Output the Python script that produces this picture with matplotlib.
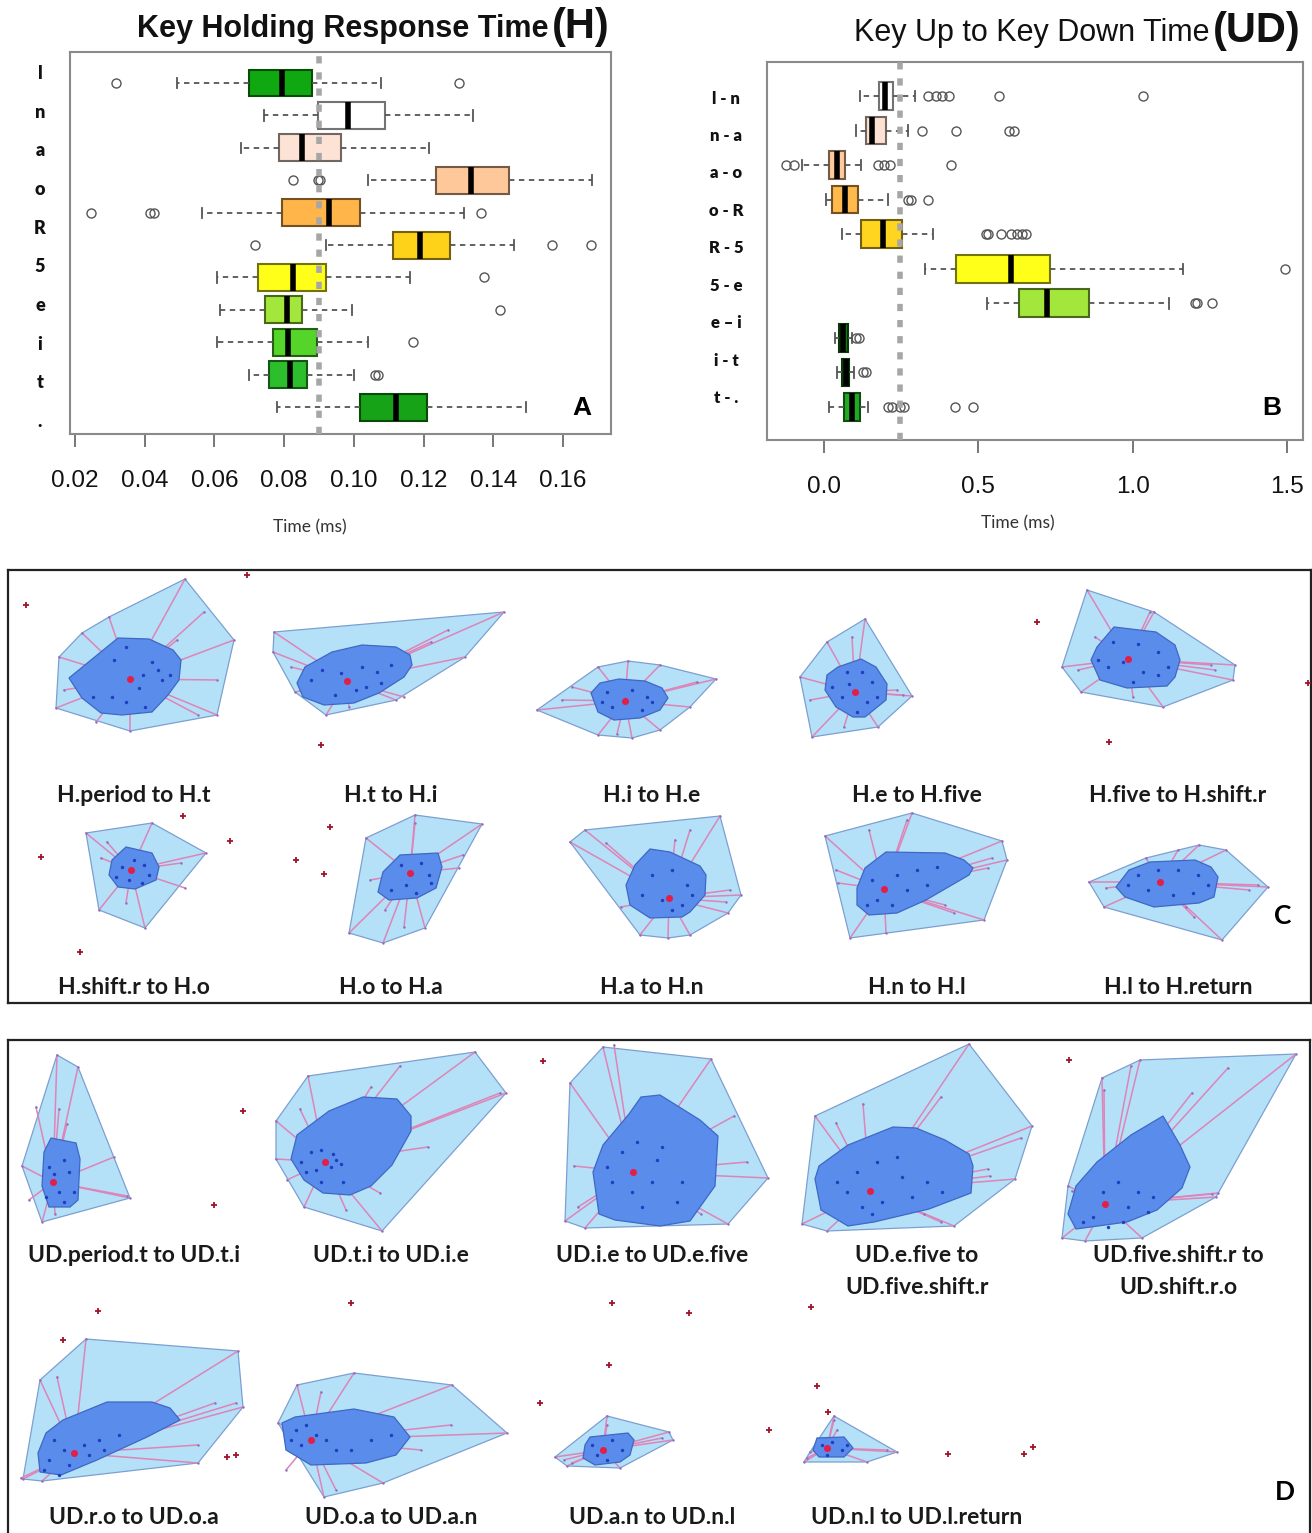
import numpy as np
import matplotlib
matplotlib.use("Agg")
import matplotlib.pyplot as plt
from matplotlib.patches import Polygon
from matplotlib.colors import to_rgb

plt.rcParams["font.family"] = "Liberation Sans"

# ---------------- panel A: key holding time (H), top row first ----------------
A_LABELS = ["l", "n", "a", "o", "R", "5", "e", "i", "t", "."]
A_WLO = [0.0492, 0.0742, 0.0676, 0.1042, 0.0563, 0.0920, 0.0607, 0.0615, 0.0607, 0.0700, 0.0779]
A_Q1 = [0.0700, 0.0897, 0.0784, 0.1235, 0.0793, 0.1113, 0.0724, 0.0746, 0.0767, 0.0756, 0.1019]
A_MED = [0.0793, 0.0984, 0.0852, 0.1335, 0.0928, 0.1191, 0.0826, 0.0808, 0.0811, 0.0817, 0.1121]
A_Q3 = [0.0881, 0.1089, 0.0964, 0.1444, 0.1019, 0.1276, 0.0920, 0.0852, 0.0893, 0.0867, 0.1210]
A_WHI = [0.1077, 0.1341, 0.1216, 0.1684, 0.1315, 0.1458, 0.1162, 0.0996, 0.1042, 0.0999, 0.1493]
A_FLIERS = [[0.0317, 0.1303], [], [], [0.0824, 0.0898, 0.0902],
            [0.0247, 0.0416, 0.0426, 0.1366], [0.0717, 0.1569, 0.1680],
            [0.1374], [0.1419], [0.1171], [0.1062, 0.1068], []]
A_FILL = ["#10a810", "#ffffff", "#fde3d6", "#ffc89a", "#ffb54a", "#ffd21a",
          "#ffff1a", "#a3e63c", "#55d42a", "#2dbe2d", "#17a317"]
A_CUTOFF = 0.09

# ---------------- panel B: key up to key down time (UD) ----------------
B_LABELS = ["l - n", "n - a", "a - o", "o - R", "R - 5", "5 - e", "e – i", "i - t", "t - ."]
B_WLO = [0.118, 0.105, -0.070, 0.007, 0.059, 0.328, 0.528, 0.035, 0.042, 0.016]
B_Q1 = [0.177, 0.136, 0.016, 0.025, 0.121, 0.427, 0.633, 0.050, 0.059, 0.064]
B_MED = [0.197, 0.157, 0.042, 0.068, 0.190, 0.606, 0.722, 0.062, 0.072, 0.092]
B_Q3 = [0.223, 0.202, 0.068, 0.110, 0.252, 0.731, 0.858, 0.078, 0.081, 0.117]
B_WHI = [0.295, 0.272, 0.121, 0.206, 0.353, 1.164, 1.118, 0.092, 0.098, 0.143]
B_FLIERS = [[0.337, 0.362, 0.381, 0.404, 0.567, 1.033], [0.318, 0.427, 0.600, 0.617],
            [-0.122, -0.096, 0.176, 0.193, 0.213, 0.412], [0.272, 0.282, 0.337],
            [0.524, 0.530, 0.573, 0.606, 0.626, 0.643, 0.656], [1.492],
            [1.201, 1.207, 1.256], [0.105, 0.112], [0.127, 0.136],
            [0.206, 0.219, 0.245, 0.259, 0.423, 0.482]]
B_FILL = ["#ffffff", "#fde2d4", "#ffcb9c", "#ffb94d", "#ffd51f", "#ffff1a",
          "#a3e63c", "#137a13", "#137a13", "#22a822"]
B_CUTOFF = 0.245

# ---------------- panel C: bagplots of successive H pairs ----------------
C_LABELS = ["H.period to H.t", "H.t to H.i", "H.i to H.e", "H.e to H.five", "H.five to H.shift.r",
            "H.shift.r to H.o", "H.o to H.a", "H.a to H.n", "H.n to H.l", "H.l to H.return"]
C_HULL = [
    [(51, 7), (100, 68), (83, 143), (-4, 159), (-78, 136), (-75, 85), (-52, 61), (-25, 45)],
    [(-117, 60), (113, 40), (74, 85), (5, 128), (-65, 143), (-96, 120), (-118, 80)],
    [(-115, 138), (-54, 95), (-24, 89), (8, 93), (64, 107), (38, 135), (8, 158), (-20, 166), (-54, 163)],
    [(-52, 47), (-5, 124), (-39, 155), (-105, 165), (-117, 105), (-90, 70)],
    [(-91, 18), (-24, 40), (57, 93), (55, 108), (-15, 135), (-97, 120), (-116, 95)],
    [(-48, 28), (18, 18), (72, 48), (11, 123), (-35, 105)],
    [(-25, 33), (24, 10), (91, 19), (34, 123), (-8, 138), (-42, 128)],
    [(-82, 37), (-67, 25), (68, 11), (89, 90), (76, 108), (38, 130), (16, 133), (-12, 130)],
    [(-92, 31), (-5, 8), (85, 36), (90, 55), (67, 115), (-67, 133)],
    [(-89, 77), (-32, 53), (21, 40), (48, 45), (90, 82), (44, 135), (-74, 102)],
]
C_BAG = [
    [(-16, 66), (15, 67), (39, 78), (47, 88), (45, 108), (34, 123), (18, 140), (-12, 143), (-33, 141), (-52, 126), (-65, 106)],
    [(-29, 73), (5, 75), (19, 83), (21, 93), (13, 105), (-12, 121), (-37, 131), (-67, 133), (-88, 125), (-94, 111), (-86, 95), (-59, 80)],
    [(-61, 121), (-52, 111), (-33, 107), (-7, 109), (10, 116), (16, 126), (8, 138), (-12, 146), (-38, 148), (-54, 140)],
    [(-79, 95), (-56, 87), (-41, 95), (-30, 112), (-31, 128), (-52, 145), (-64, 145), (-81, 135), (-92, 118), (-90, 103)],
    [(-64, 55), (-22, 60), (-3, 73), (2, 88), (-3, 105), (-11, 114), (-51, 116), (-78, 108), (-87, 88), (-81, 75)],
    [(-8, 42), (18, 48), (25, 62), (22, 75), (1, 84), (-16, 82), (-25, 70), (-22, 55)],
    [(9, 50), (47, 48), (51, 62), (45, 83), (26, 93), (-2, 95), (-13, 87), (-8, 67)],
    [(-2, 44), (18, 47), (48, 61), (54, 70), (53, 90), (38, 107), (30, 112), (-2, 113), (-22, 100), (-26, 80), (-17, 60)],
    [(-31, 47), (28, 48), (47, 55), (56, 63), (52, 70), (9, 95), (-20, 108), (-48, 110), (-60, 100), (-60, 83), (-52, 63)],
    [(-49, 65), (-28, 57), (17, 55), (33, 62), (40, 72), (36, 92), (21, 98), (-24, 102), (-53, 92), (-62, 82)],
]
C_CENTER = [(-4, 107), (-44, 109), (-27, 129), (-62, 120), (-50, 87),
            (-3, 65), (19, 68), (17, 93), (-33, 84), (-18, 77)]
C_POINTS = [
    [(18, 90), (24, 98), (9, 103), (-20, 88), (-8, 75), (28, 108), (-22, 125), (-41, 125), (-8, 130), (11, 135), (36, 103), (5, 116)],
    [(-69, 98), (-50, 101), (-29, 95), (-14, 100), (0, 93), (-35, 118), (-56, 123), (-10, 111), (-80, 108), (-25, 115)],
    [(-45, 120), (-20, 118), (-5, 125), (-40, 135), (-10, 138), (0, 130), (-50, 130)],
    [(-70, 100), (-55, 100), (-45, 110), (-75, 125), (-50, 130), (-60, 140), (-85, 115), (-40, 125), (-68, 112)],
    [(-65, 70), (-40, 72), (-20, 80), (-70, 95), (-55, 90), (-35, 100), (-20, 103), (-10, 95), (-80, 88), (-45, 110)],
    [(0, 55), (10, 60), (-12, 62), (15, 70), (-5, 75), (8, 78), (-18, 72)],
    [(10, 60), (30, 58), (38, 70), (15, 80), (25, 88), (0, 85), (40, 78)],
    [(0, 70), (20, 65), (35, 80), (10, 95), (30, 100), (-10, 90), (40, 90), (20, 105)],
    [(-45, 75), (-20, 70), (0, 65), (20, 62), (-40, 95), (-10, 85), (10, 80), (-50, 100), (-25, 100)],
    [(-40, 70), (-20, 65), (0, 65), (20, 70), (-30, 85), (-5, 90), (15, 88), (30, 80), (-50, 80)],
]
C_LOOP = [
    [(83, 108), (64, 143), (-70, 118), (-38, 150), (70, 40), (43, 68)],
    [(57, 58), (40, 70), (-42, 135), (13, 125), (-100, 95)],
    [(-90, 128), (-35, 162), (45, 110), (-80, 115)],
    [(-20, 118), (-14, 123), (-73, 155), (-107, 128), (-65, 65)],
    [(-28, 40), (33, 93), (37, 98), (-100, 98), (-45, 125), (-83, 65)],
    [(47, 58), (51, 83), (-33, 53), (-27, 37), (-8, 98)],
    [(68, 63), (72, 50), (24, 18), (-6, 105), (-21, 75), (13, 122)],
    [(38, 25), (23, 35), (78, 85), (74, 97), (-46, 38), (-31, 102)],
    [(-10, 15), (-81, 65), (-79, 78), (75, 53), (71, 63), (28, 100), (37, 108), (-31, 128), (-48, 25)],
    [(80, 80), (71, 85), (0, 45), (8, 102), (16, 112), (-72, 83)],
]
C_OUT = [
    [(-108, 33), (113, 3)], [(-70, 173)], [], [], [(-141, 50), (-69, 170), (130, 111)],
    [(-93, 52), (49, 11), (96, 36), (-54, 147)], [(-61, 22), (-95, 55), (-67, 69)], [], [], [],
]

# ---------------- panel D: bagplots of successive UD pairs ----------------
D_LABELS = ["UD.period.t to UD.t.i", "UD.t.i to UD.i.e", "UD.i.e to UD.e.five",
            "UD.e.five to\nUD.five.shift.r", "UD.five.shift.r to\nUD.shift.r.o",
            "UD.r.o to UD.o.a", "UD.o.a to UD.a.n", "UD.a.n to UD.n.l", "UD.n.l to UD.l.return"]
D_HULL = [
    [(-77, 13), (-56, 25), (-4, 156), (-92, 180), (-112, 124)],
    [(-83, 34), (84, 10), (115, 51), (-9, 189), (-87, 165), (-115, 117), (-115, 79)],
    [(-82, 41), (-49, 5), (59, 17), (116, 136), (76, 182), (-67, 186), (-87, 179)],
    [(-102, 74), (52, 2), (115, 84), (98, 137), (37, 184), (-90, 189), (-115, 182)],
    [(-76, 36), (-38, 18), (118, 12), (38, 155), (-36, 196), (-93, 199), (-116, 196), (-110, 144)],
    [(-48, 39), (104, 51), (109, 107), (64, 163), (-92, 181), (-111, 179), (-94, 80)],
    [(-94, 85), (-37, 73), (61, 85), (116, 133), (-8, 183), (-67, 197), (-113, 123)],
    [(-97, 157), (-45, 116), (17, 132), (21, 140), (-32, 168), (-85, 166)],
    [(-83, 116), (-20, 152), (-50, 162), (-113, 162), (-107, 152)],
]
D_BAG = [
    [(-83, 96), (-58, 101), (-54, 117), (-56, 158), (-64, 165), (-85, 165), (-92, 144), (-90, 110)],
    [(-28, 55), (6, 57), (20, 74), (20, 89), (1, 123), (-20, 144), (-41, 153), (-68, 151), (-87, 138), (-100, 117), (-94, 93), (-62, 69)],
    [(-11, 55), (8, 53), (48, 78), (66, 94), (63, 144), (38, 179), (8, 184), (-37, 178), (-53, 172), (-59, 130), (-49, 103), (-23, 72)],
    [(-69, 103), (-24, 85), (-1, 86), (28, 98), (52, 112), (56, 124), (54, 151), (12, 167), (-43, 180), (-69, 184), (-96, 168), (-102, 137), (-98, 124)],
    [(-15, 74), (2, 103), (12, 125), (4, 146), (-21, 168), (-51, 180), (-102, 187), (-110, 172), (-102, 144), (-81, 120), (-47, 93)],
    [(-27, 102), (18, 102), (36, 108), (46, 120), (13, 137), (-37, 160), (-73, 175), (-94, 172), (-96, 153), (-88, 133), (-71, 120)],
    [(-37, 109), (3, 117), (19, 137), (5, 155), (-25, 163), (-80, 165), (-105, 150), (-109, 123), (-96, 117)],
    [(-62, 137), (-24, 133), (-18, 140), (-22, 155), (-32, 162), (-57, 165), (-69, 158), (-67, 145)],
    [(-100, 138), (-73, 137), (-64, 148), (-73, 157), (-98, 157), (-104, 150)],
]
D_CENTER = [(-81, 140), (-66, 120), (-19, 130), (-47, 149), (-73, 162),
            (-60, 153), (-80, 140), (-49, 150), (-90, 148)]
D_POINTS = [
    [(-70, 118), (-85, 125), (-65, 130), (-75, 150), (-60, 150), (-88, 155), (-70, 160), (-80, 132)],
    [(-80, 110), (-70, 108), (-58, 112), (-55, 118), (-90, 120), (-75, 128), (-60, 125), (-50, 122), (-70, 140), (-85, 130), (-48, 140)],
    [(-30, 110), (-15, 100), (5, 118), (-40, 140), (-20, 150), (0, 140), (25, 160), (-10, 165), (10, 105), (-45, 125), (30, 140)],
    [(-60, 130), (-40, 120), (-20, 115), (-15, 135), (10, 140), (-35, 160), (-55, 165), (-70, 150), (-5, 155), (25, 150), (-80, 140), (-45, 172)],
    [(-60, 140), (-40, 150), (-25, 155), (-50, 165), (-85, 175), (-95, 180), (-70, 185), (-30, 170), (-75, 150), (-55, 180)],
    [(-80, 140), (-70, 150), (-50, 145), (-35, 140), (-15, 135), (-85, 160), (-65, 165), (-45, 155), (-90, 170), (-75, 175), (-30, 150)],
    [(-95, 130), (-85, 125), (-75, 135), (-90, 145), (-65, 140), (-55, 150), (-100, 140), (-40, 150), (0, 135), (-20, 140)],
    [(-60, 145), (-40, 140), (-30, 150), (-55, 155), (-45, 160)],
    [(-95, 145), (-85, 142), (-75, 150), (-90, 155), (-70, 145)],
]
D_LOOP = [
    [(-75, 67), (-67, 82), (-20, 115), (-7, 154), (-98, 65), (-79, 172), (-105, 158)],
    [(37, 105), (109, 51), (-20, 45), (9, 24), (-91, 67), (-104, 138), (-45, 168), (-11, 151)],
    [(82, 74), (95, 120), (-38, 3), (-78, 124), (-74, 165), (49, 172)],
    [(24, 55), (-54, 62), (-81, 81), (71, 127), (73, 134), (104, 96), (24, 180), (7, 172)],
    [(50, 26), (14, 51), (-47, 24), (-74, 48), (40, 151), (34, 152), (-106, 149)],
    [(102, 103), (81, 103), (64, 145), (-77, 77), (-113, 178)],
    [(60, 125), (30, 150), (-70, 92), (-55, 190), (-105, 170)],
    [(-88, 160), (-80, 163), (10, 138), (-45, 125)],
    [(-83, 120), (-80, 130), (-30, 150), (-110, 158)],
]
D_OUT = [
    [(109, 69), (80, 163)], [], [(-109, 19)], [], [(-109, 18)],
    [(-36, 11), (-71, 40), (93, 157), (102, 155)], [(-40, 3)],
    [(-40, 3), (-43, 65), (-112, 103), (37, 13)],
    [(-106, 7), (-100, 86), (-89, 112), (-148, 130), (31, 154), (107, 154), (116, 147)],
]

# ---------------- figure ----------------
W, H = 1312, 1533
fig = plt.figure(figsize=(W / 100, H / 100), dpi=100)
renderer = fig.canvas.get_renderer()


def px_axes(left, top, right, bottom):
    return fig.add_axes([left / W, 1 - bottom / H, (right - left) / W, (bottom - top) / H])


def fx(x):
    return x / W


def fy(y):
    return 1 - y / H


def darker(c, f=0.45):
    r, g, b = to_rgb(c)
    return (r * f, g * f, b * f)


def box_panel(ax, wlo, q1, med, q3, whi, fliers, fills, width):
    stats = [dict(whislo=a, q1=b, med=c, q3=d, whishi=e, fliers=f)
             for a, b, c, d, e, f in zip(wlo, q1, med, q3, whi, fliers)]
    bp = ax.bxp(stats, positions=range(len(stats)), widths=width,
                orientation="horizontal", patch_artist=True, manage_ticks=False,
                capwidths=width * 0.38,
                medianprops=dict(color="black", lw=4, solid_capstyle="butt"),
                whiskerprops=dict(color="#555555", lw=1.3, linestyle=(0, (3, 2.5))),
                capprops=dict(color="#555555", lw=1.3),
                flierprops=dict(marker="o", markerfacecolor="none", markeredgecolor="#555555",
                                markersize=6.5, markeredgewidth=1.0))
    for patch, c in zip(bp["boxes"], fills):
        patch.set_facecolor(c)
        patch.set_edgecolor(darker(c))
        patch.set_linewidth(1.5)
    for s in ax.spines.values():
        s.set_color("#8a8a8a")
        s.set_linewidth(1.5)
    ax.tick_params(axis="x", length=9, width=1.4, color="#777777", pad=17,
                   labelsize=17.5, labelcolor="#111111")


def row_labels(ax, labels, first, last, pad, size):
    ax.set_yticks(np.linspace(first, last, len(labels)), labels)
    ax.tick_params(axis="y", length=0, pad=pad)
    for lbl in ax.get_yticklabels():
        lbl.set_horizontalalignment("center")
        lbl.set_fontfamily("Lato")
        lbl.set_fontweight("heavy")
        lbl.set_fontsize(size)
        lbl.set_color("#111111")


# panel A
axA = px_axes(70, 52, 611, 434)
box_panel(axA, A_WLO, A_Q1, A_MED, A_Q3, A_WHI, A_FLIERS, A_FILL, 0.83)
axA.axvline(A_CUTOFF, color="#a6a6a6", lw=4, dashes=(1.3, 1.6), zorder=10)
a_ticks = np.arange(0.02, 0.161, 0.02)
axA.set_xticks(a_ticks, [f"{v:.2f}" for v in a_ticks])
row_labels(axA, A_LABELS, -0.34, 10.4, 21.6, 13)
axA.set_xlim(0.01857, 0.17377)
axA.set_ylim(10.83, -0.957)
fig.text(fx(582), fy(408), "A", ha="center", va="center", fontsize=19, fontweight="bold")
fig.text(fx(310), fy(527), "Time (ms)", ha="center", va="center", fontsize=12.5,
         family="Lato", color="#333333")

# panel B
axB = px_axes(767, 62, 1303, 440)
box_panel(axB, B_WLO, B_Q1, B_MED, B_Q3, B_WHI, B_FLIERS, B_FILL, 0.8)
axB.axvline(B_CUTOFF, color="#a6a6a6", lw=4, dashes=(1.3, 1.6), zorder=10)
axB.set_xticks([0.0, 0.5, 1.0, 1.5], ["0.0", "0.5", "1.0", "1.5"])
row_labels(axB, B_LABELS, 0.03, 8.7, 29.5, 12)
axB.set_xlim(-0.1847, 1.5518)
axB.set_ylim(9.956, -0.984)
fig.text(fx(1272), fy(408), "B", ha="center", va="center", fontsize=19, fontweight="bold")
fig.text(fx(1018), fy(523), "Time (ms)", ha="center", va="center", fontsize=12.5,
         family="Lato", color="#333333")


def title(right, y, text, tag, weight):
    # the bracketed tag is larger than the rest, so it is placed first from the right
    t = fig.text(fx(right), fy(y + 1), tag, ha="right", va="baseline", fontsize=30,
                 fontweight="bold", color="#111111")
    bb = t.get_window_extent(renderer)
    fig.text((bb.x0 - 4) / W, fy(y), text, ha="right", va="baseline", fontsize=22,
             fontweight=weight, color="#111111")


title(610, 37, "Key Holding Response Time", "(H)", "bold")
title(1301, 41, "Key Up to Key Down Time", "(UD)", "normal")

# bagplot panels
HULL_FC, HULL_EC = "#b4e1f8", "#7d9fd0"
BAG_FC, BAG_EC = "#5a8ceb", "#3d68c4"
WHISKER = "#dd84b8"
COLS = [134, 391, 652, 917, 1178]


def frame(left, top, right, bottom):
    ax = px_axes(left, top, right, bottom)
    ax.set_xticks([])
    ax.set_yticks([])
    ax.patch.set_alpha(0)
    for s in ax.spines.values():
        s.set_color("#222222")
        s.set_linewidth(1.6)
    return ax


def bag_cell(cx, top, height, label_y, label, hull, bag, center, pts, loop, outs):
    ax = px_axes(cx - 150, top, cx + 150, top + height)
    ax.set_xlim(-150, 150)
    ax.set_ylim(height, 0)
    ax.axis("off")
    ax.add_patch(Polygon(hull, closed=True, fc=HULL_FC, ec=HULL_EC, lw=0.9, zorder=1))
    ends = np.array(list(hull) + list(loop), dtype=float)
    for x, y in ends:
        ax.plot([center[0], x], [center[1], y], color=WHISKER, lw=1.1, zorder=2)
    ax.scatter(ends[:, 0], ends[:, 1], s=3, color="#8a6fbf", lw=0, zorder=2.5)
    ax.add_patch(Polygon(bag, closed=True, fc=BAG_FC, ec=BAG_EC, lw=0.9, zorder=3))
    p = np.array(pts, dtype=float)
    ax.scatter(p[:, 0], p[:, 1], s=6, color="#1f3dbf", lw=0, zorder=4)
    ax.scatter([center[0]], [center[1]], s=26, color="#e0204a", lw=0, zorder=5)
    if outs:
        o = np.array(outs, dtype=float)
        ax.scatter(o[:, 0], o[:, 1], marker="+", s=18, color="#a0142a", lw=1.3,
                   zorder=5, clip_on=False)
    for k, line in enumerate(label.split("\n")):
        ax.text(0, label_y + 32 * k, line, ha="center", va="center", fontsize=16.5,
                family="Lato", fontweight="bold", color="#1a1a1a", clip_on=False)


frame(8, 570, 1311, 1003)
C_ROWS = [(572, 200, 795), (805, 175, 987)]
for i, lab in enumerate(C_LABELS):
    top, hgt, ly = C_ROWS[i // 5]
    bag_cell(COLS[i % 5], top, hgt, ly - top, lab, C_HULL[i], C_BAG[i], C_CENTER[i],
             C_POINTS[i], C_LOOP[i], C_OUT[i])
fig.text(fx(1283), fy(916), "C", ha="center", va="center", fontsize=19,
         family="Lato", fontweight="bold")

frame(8, 1040, 1310, 1560)
D_ROWS = [(1042, 205, 1255), (1300, 205, 1517)]
for i, lab in enumerate(D_LABELS):
    top, hgt, ly = D_ROWS[i // 5]
    bag_cell(COLS[i % 5], top, hgt, ly - top, lab, D_HULL[i], D_BAG[i], D_CENTER[i],
             D_POINTS[i], D_LOOP[i], D_OUT[i])
fig.text(fx(1285), fy(1492), "D", ha="center", va="center", fontsize=19,
         family="Lato", fontweight="bold")

fig.savefig("out.png", dpi=100)
